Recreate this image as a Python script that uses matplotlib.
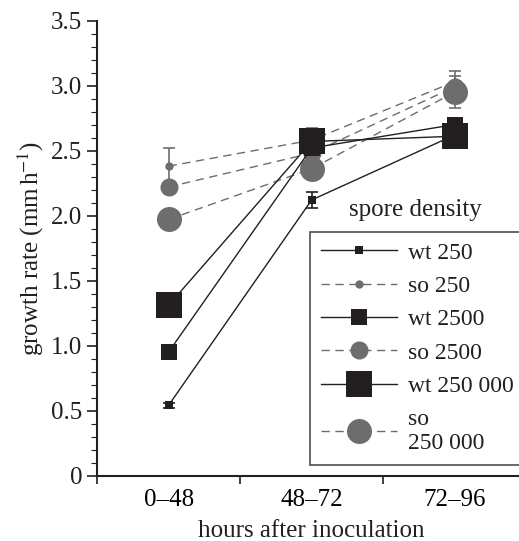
import matplotlib.pyplot as plt
import numpy as np
from matplotlib.ticker import MultipleLocator

plt.rcParams['font.family'] = ['Liberation Serif', 'DejaVu Serif']
plt.rcParams['mathtext.fontset'] = 'stix'
plt.rcParams['font.size'] = 18

groups = ['0\u201348', '48\u201372', '72\u201396']
labels = ['wt 250', 'so 250', 'wt 2500', 'so 2500', 'wt 250 000', 'so\n250 000']

wt_250 = [0.54, 2.12, 2.62]
so_250 = [2.38, 2.58, 3.03]
wt_2500 = [0.95, 2.52, 2.70]
so_2500 = [2.22, 2.48, 2.99]
wt_250000 = [1.31, 2.57, 2.61]
so_250000 = [1.97, 2.36, 2.95]

wt_250_err = [0.02, 0.06, 0.03]
so_250_err = [0.14, 0.09, 0.08]
wt_2500_err = [0.02, 0.03, 0.05]
so_2500_err = [0.03, 0.05, 0.04]
wt_250000_err = [0.03, 0.04, 0.04]
so_250000_err = [0.04, 0.08, 0.12]

black = '#231f20'
grey = '#6d6d6d'

fig = plt.figure(figsize=(5.19, 5.41), dpi=100)
ax = fig.add_axes([0.187, 0.121, 0.827, 0.841])

x = np.arange(len(groups)) + 0.5
dash = (0, (6, 4))

series = [
    (so_250, so_250_err, 'o', 6, grey, dash),
    (so_2500, so_2500_err, 'o', 13, grey, dash),
    (so_250000, so_250000_err, 'o', 18, grey, dash),
    (wt_250, wt_250_err, 's', 6, black, '-'),
    (wt_2500, wt_2500_err, 's', 12, black, '-'),
    (wt_250000, wt_250000_err, 's', 19, black, '-'),
]
handles = {}
for vals, err, m, ms, c, ls in series:
    ax.errorbar(x, vals, yerr=err, fmt='none', ecolor=c, elinewidth=1.2,
                capsize=4, capthick=1.2, zorder=2)
    ln, = ax.plot(x, vals, marker=m, markersize=ms, color=c, linestyle=ls,
                  linewidth=1, markeredgewidth=0, zorder=3)
    handles[id(vals)] = ln

order = [wt_250, so_250, wt_2500, so_2500, wt_250000, so_250000]
leg = ax.legend([handles[id(v)] for v in order], labels,
                loc='upper left', bbox_to_anchor=(0.598, 0.572),
                bbox_transform=fig.transFigure, borderaxespad=0,
                frameon=True, fancybox=False,
                edgecolor=black, handlelength=3.2, handletextpad=0.5,
                labelspacing=0.5, borderpad=0.45, fontsize=17)
leg.get_frame().set_linewidth(1.2)
for t in leg.get_texts():
    t.set_color(black)
fig.text(0.80, 0.612, 'spore density', ha='center', va='center', fontsize=18, color=black)

ax.set_xlim(0, 3)
ax.set_ylim(0, 3.5)
ax.set_xticks([0, 1, 2, 3])
ax.set_xticklabels([])
ax.set_xticks(x, minor=True)
ax.set_xticklabels(groups, minor=True)
ax.tick_params(axis='x', which='minor', length=0, pad=10)
ax.tick_params(axis='x', which='major', length=6, width=1.2, color=black)
ax.yaxis.set_major_locator(MultipleLocator(0.5))
ax.yaxis.set_minor_locator(MultipleLocator(0.1))
ax.set_yticks(np.arange(0, 3.6, 0.5))
ax.set_yticklabels(['0', '0.5', '1.0', '1.5', '2.0', '2.5', '3.0', '3.5'])
ax.tick_params(axis='y', which='major', length=7, width=1.2, color=black)
ax.tick_params(axis='y', which='minor', length=4, width=0.8, color=black)
ax.tick_params(colors=black, labelcolor=black)
for s in ['top', 'right']:
    ax.spines[s].set_visible(False)
for s in ['left', 'bottom']:
    ax.spines[s].set_linewidth(1.5)
    ax.spines[s].set_color(black)

ax.set_xlabel('hours after inoculation', fontsize=18, color=black, labelpad=6)
ax.set_ylabel('growth rate (mm$\\,$h$^{-1}$)', fontsize=18, color=black, labelpad=4)

fig.savefig('out.png', dpi=100)
